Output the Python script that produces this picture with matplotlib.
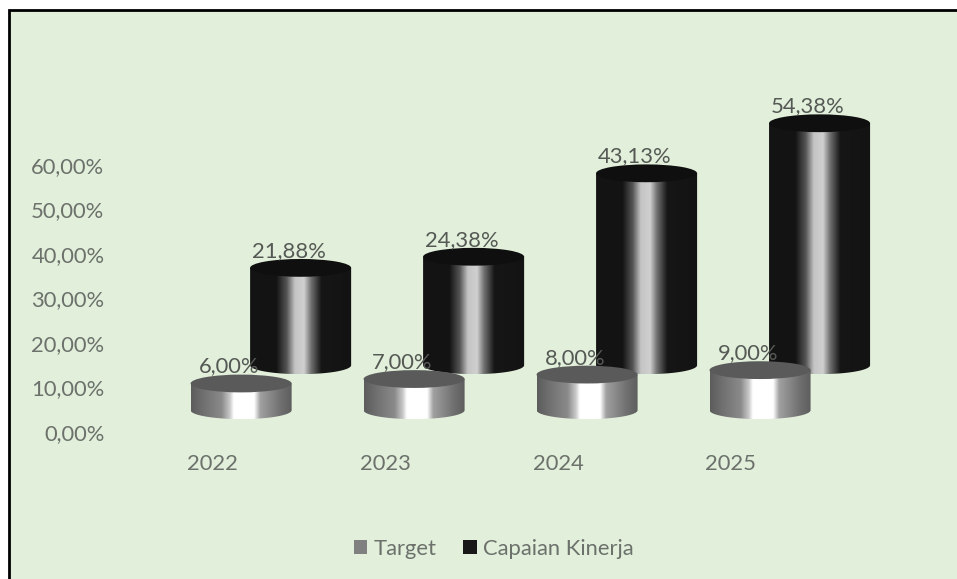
import matplotlib
matplotlib.use("Agg")
import matplotlib.pyplot as plt
import numpy as np
from matplotlib.colors import LinearSegmentedColormap
from matplotlib.patches import Ellipse, Patch, Polygon, Rectangle

years = ["2022", "2023", "2024", "2025"]
target = [6.00, 7.00, 8.00, 9.00]
capaian = [21.88, 24.38, 43.13, 54.38]
y_ticks = [0, 10, 20, 30, 40, 50, 60]

W, H = 957, 579
BAR_W = 0.584
CAP_H = 2.0
FONT = 15.8
TEXT = "#6c716c"
LABEL = "#555955"

plt.rcParams["font.family"] = ["Lato", "DejaVu Sans"]

target_cmap = LinearSegmentedColormap.from_list(
    "target",
    [(0, "#5c5c5c"), (0.12, "#707070"), (0.30, "#8a8a8a"), (0.38, "#c8c8c8"),
     (0.42, "#ffffff"), (0.62, "#ffffff"), (0.68, "#a0a0a0"), (0.88, "#707070"), (1, "#5c5c5c")],
)
capaian_cmap = LinearSegmentedColormap.from_list(
    "capaian",
    [(0, "#131313"), (0.26, "#141414"), (0.36, "#555555"), (0.44, "#c4c4c4"),
     (0.53, "#d0d0d0"), (0.60, "#707070"), (0.70, "#161616"), (1, "#131313")],
)


def draw_cylinder(ax, x, base, value, cmap, cap_color):
    top = base + value
    left, right = x - BAR_W / 2, x + BAR_W / 2
    t = np.linspace(np.pi, 2 * np.pi, 60)
    body_x = np.concatenate([[left], x + BAR_W / 2 * np.cos(t), [right]])
    body_y = np.concatenate([[top], base + CAP_H * np.sin(t), [top]])
    body = Polygon(np.column_stack([body_x, body_y]), closed=True, transform=ax.transData)
    im = ax.imshow(
        np.linspace(0, 1, 256)[None, :],
        cmap=cmap,
        extent=(left, right, base - CAP_H, top),
        aspect="auto",
        zorder=2,
    )
    im.set_clip_path(body)
    ax.add_patch(Ellipse((x, top), BAR_W, 2 * CAP_H, facecolor=cap_color, edgecolor="none", zorder=3))


fig = plt.figure(figsize=(W / 100, H / 100), dpi=100, facecolor="white")

# green panel, only left and top border are visible
fig.patches.append(
    Rectangle(
        (9.2 / W, -0.1), 1.1, 1 - 10 / H + 0.1,
        transform=fig.transFigure, facecolor="#e2efda", edgecolor="black", linewidth=2.0, zorder=-1,
    )
)

ax = fig.add_axes([110 / W, 1 - 432 / H, 790 / W, 400 / H])
ax.patch.set_alpha(0)
for spine in ax.spines.values():
    spine.set_visible(False)

positions = np.arange(len(years))

for i in positions:
    draw_cylinder(ax, i + 0.512, 15.0, capaian[i], capaian_cmap, "#0f0f0f")
for i in positions:
    draw_cylinder(ax, i + 0.168, 4.9, target[i], target_cmap, "#5a5a5a")

# value labels use a comma as decimal mark
for i in positions:
    ax.annotate(f"{capaian[i]:.2f}%".replace(".", ","), (i + 0.512, 15.0 + capaian[i]),
                xytext=(-12, 17), textcoords="offset pixels", ha="center", va="center",
                fontsize=FONT, color=LABEL, zorder=5)
    ax.annotate(f"{target[i]:.2f}%".replace(".", ","), (i + 0.168, 4.9 + target[i]),
                xytext=(-12, 17), textcoords="offset pixels", ha="center", va="center",
                fontsize=FONT, color=LABEL, zorder=5)

ax.set_xlim(-0.59, 3.977)
ax.set_ylim(0, 400 / 4.45)
ax.set_yticks(y_ticks)
ax.set_yticklabels([f"{v:.2f}%".replace(".", ",") for v in y_ticks])
ax.set_xticks(positions)
ax.set_xticklabels(years)
ax.tick_params(axis="y", length=0, pad=4, labelsize=FONT, labelcolor=TEXT)
ax.tick_params(axis="x", length=0, pad=16, labelsize=FONT, labelcolor=TEXT)

handles = [Patch(facecolor="#808080", label="Target"), Patch(facecolor="#181818", label="Capaian Kinerja")]
fig.legend(
    handles=handles, loc="center", bbox_to_anchor=(494 / W, 1 - 549 / H), ncol=2, frameon=False,
    fontsize=FONT, labelcolor=TEXT, handlelength=0.6, handleheight=0.6, handletextpad=0.3, columnspacing=1.2,
)

fig.savefig("out.png", dpi=100)
